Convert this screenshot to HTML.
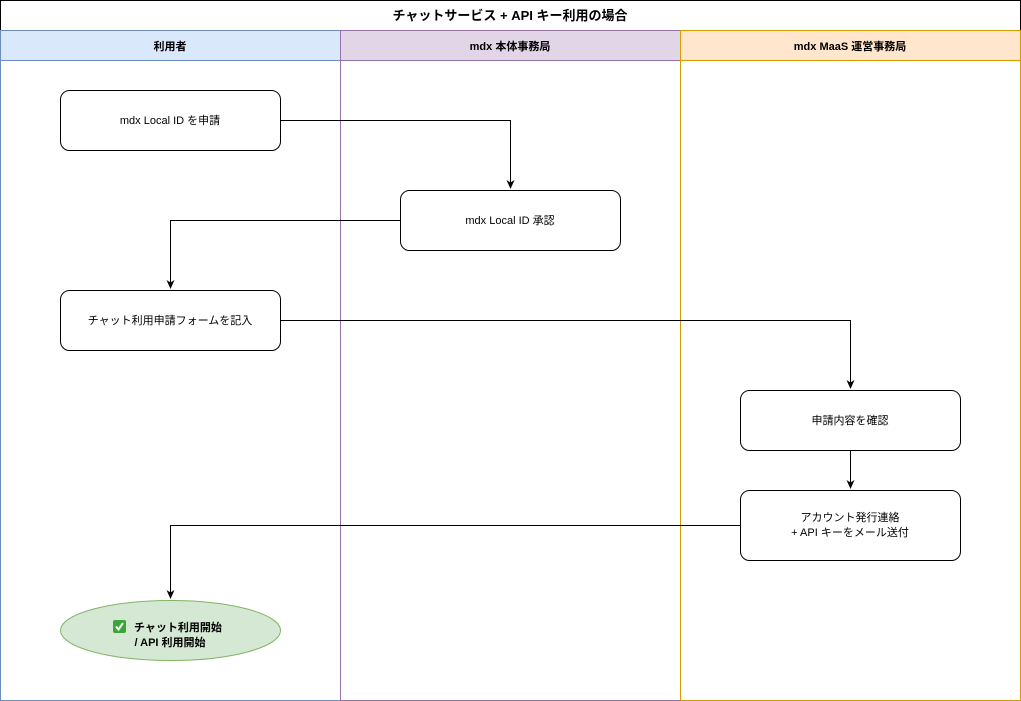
<!DOCTYPE html>
<html><head><meta charset="utf-8"><style>
html,body{margin:0;padding:0;background:#fff;}
svg{display:block;font-family:"Liberation Sans","Noto Sans CJK JP",sans-serif;}
</style></head><body>
<svg width="1021" height="701" viewBox="0 0 1021 701" xmlns="http://www.w3.org/2000/svg">
<defs><marker id="a" markerWidth="10" markerHeight="10" refX="8" refY="5" orient="auto" markerUnits="userSpaceOnUse"><path d="M0,1 L9,5 L0,9 L2.5,5 Z" fill="#000"/></marker></defs>
<rect x="0.5" y="0.5" width="1020" height="30" fill="#fff" stroke="#000"/>
<text x="510" y="20" font-size="13" font-weight="bold" text-anchor="middle">チャットサービス + API キー利用の場合</text>
<rect x="0.5" y="30.5" width="340" height="670" fill="#fff" stroke="#6c8ebf"/>
<rect x="0.5" y="30.5" width="340" height="30" fill="#dae8fc" stroke="#6c8ebf"/>
<rect x="340.5" y="30.5" width="340" height="670" fill="#fff" stroke="#9673a6"/>
<rect x="340.5" y="30.5" width="340" height="30" fill="#e1d5e7" stroke="#9673a6"/>
<rect x="680.5" y="30.5" width="340" height="670" fill="#fff" stroke="#d79b00"/>
<rect x="680.5" y="30.5" width="340" height="30" fill="#ffe6cc" stroke="#d79b00"/>
<g font-size="11" font-weight="bold" text-anchor="middle">
<text x="170" y="50">利用者</text>
<text x="510" y="50">mdx 本体事務局</text>
<text x="850" y="50">mdx MaaS 運営事務局</text>
</g>
<g fill="none" stroke="#000" stroke-width="1">
<path d="M280.5,120.5 H510.5 V188" marker-end="url(#a)"/>
<path d="M400.5,220.5 H170.5 V288" marker-end="url(#a)"/>
<path d="M280.5,320.5 H850.5 V388" marker-end="url(#a)"/>
<path d="M850.5,450.5 V488" marker-end="url(#a)"/>
<path d="M740.5,525.5 H170.5 V598" marker-end="url(#a)"/>
</g>
<g fill="#fff" stroke="#000">
<rect x="60.5" y="90.5" width="220" height="60" rx="9"/>
<rect x="400.5" y="190.5" width="220" height="60" rx="9"/>
<rect x="60.5" y="290.5" width="220" height="60" rx="9"/>
<rect x="740.5" y="390.5" width="220" height="60" rx="9"/>
<rect x="740.5" y="490.5" width="220" height="70" rx="9"/>
</g>
<ellipse cx="170.5" cy="630.5" rx="110" ry="30" fill="#d5e8d4" stroke="#82b366"/>
<g font-size="11" text-anchor="middle">
<text x="170" y="124">mdx Local ID を申請</text>
<text x="510" y="224">mdx Local ID 承認</text>
<text x="170" y="324">チャット利用申請フォームを記入</text>
<text x="850" y="424">申請内容を確認</text>
<text x="850" y="521">アカウント発行連絡</text>
<text x="850" y="536">+ API キーをメール送付</text>
</g>
<rect x="113" y="620" width="13" height="13" rx="2" fill="#3aa63a"/>
<path d="M116,626.5 L118.5,629.5 L123,623" fill="none" stroke="#fff" stroke-width="2"/>
<g font-size="11" font-weight="bold" text-anchor="middle">
<text x="178" y="631">チャット利用開始</text>
<text x="170" y="646">/ API 利用開始</text>
</g>
</svg>
</body></html>
